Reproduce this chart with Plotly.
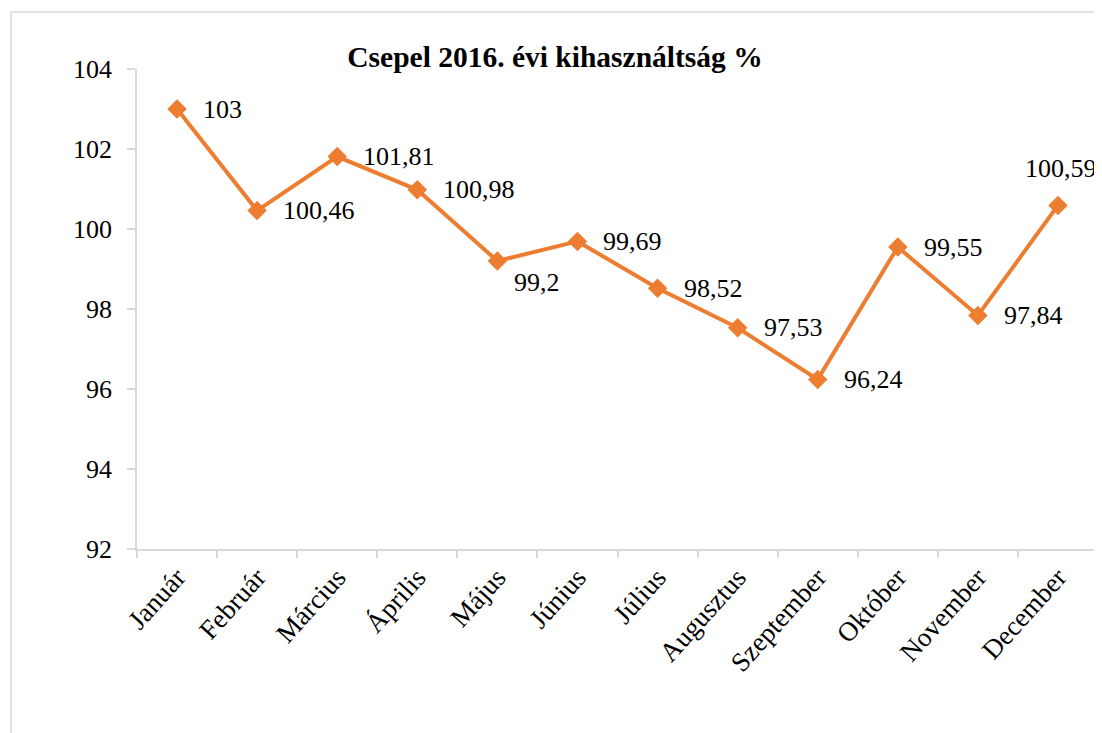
import plotly.graph_objects as go

months = ["Január", "Február", "Március", "Április", "Május", "Június",
          "Július", "Augusztus", "Szeptember", "Október", "November", "December"]
values = [103, 100.46, 101.81, 100.98, 99.2, 99.69, 98.52, 97.53, 96.24, 99.55, 97.84, 100.59]
labels = ["103", "100,46", "101,81", "100,98", "99,2", "99,69", "98,52", "97,53",
          "96,24", "99,55", "97,84", "100,59"]
label_pos = ["right", "right", "right", "right", "below", "right", "right", "right",
             "right", "right", "right", "above"]
y_ticks = [92, 94, 96, 98, 100, 102, 104]
title_text = "Csepel 2016. évi kihasználtság %"

ORANGE = "#ED7D31"
GRID = "#D9D9D9"
FONT = "Liberation Serif"

fig = go.Figure()
fig.add_trace(go.Scatter(
    x=months, y=values, mode="lines+markers",
    line=dict(color=ORANGE, width=4),
    marker=dict(symbol="diamond", size=15, color=ORANGE),
    hoverinfo="skip", showlegend=False, cliponaxis=False,
))

annotations = []
for m, v, t, p in zip(months, values, labels, label_pos):
    if p == "right":
        a = dict(xanchor="left", yanchor="middle", xshift=24, yshift=0)
    elif p == "below":
        a = dict(xanchor="center", yanchor="middle", xshift=40, yshift=-21)
    else:
        a = dict(xanchor="center", yanchor="middle", xshift=3, yshift=37)
    annotations.append(dict(x=m, y=v, text=t, showarrow=False,
                            font=dict(family=FONT, size=26, color="black"), **a))

# page body has an 8px margin, so the figure is 8px smaller than the window
W, H = 1094, 725
L, T = 129, 61
fig.update_layout(
    width=W, height=H,
    margin=dict(l=L, r=W - L - 961, t=T, b=H - T - 480),
    paper_bgcolor="white", plot_bgcolor="white",
    title=dict(text="<b>" + title_text + "</b>", x=0.5, xanchor="center",
               y=1 - 49 / H, yanchor="middle",
               font=dict(family=FONT, size=29.5, color="black")),
    annotations=annotations,
    shapes=[dict(type="rect", xref="paper", yref="paper",
                 x0=(11 - 137) / 961, x1=(1120 - 137) / 961,
                 y0=(549 - 760) / 480, y1=(549 - 12) / 480,
                 line=dict(color=GRID, width=1.5), fillcolor="rgba(0,0,0,0)", layer="below")],
)
fig.update_xaxes(
    type="category", range=[-0.5, len(months) - 0.5],
    showline=True, linecolor=GRID, linewidth=1.5,
    ticks="outside", tickson="boundaries", ticklen=7, tickcolor=GRID, tickwidth=1.5,
    tickangle=-48, showgrid=False, zeroline=False,
    tickfont=dict(family=FONT, size=27, color="black"),
)
fig.update_yaxes(
    range=[92, 104], tickvals=y_ticks, ticktext=[str(v) for v in y_ticks],
    showline=True, linecolor=GRID, linewidth=1.5,
    ticks="outside", ticklen=8, tickcolor=GRID, tickwidth=1.5,
    showgrid=False, zeroline=False, ticklabelstandoff=10,
    tickfont=dict(family=FONT, size=26, color="black"),
)
fig.write_html("out.html")
